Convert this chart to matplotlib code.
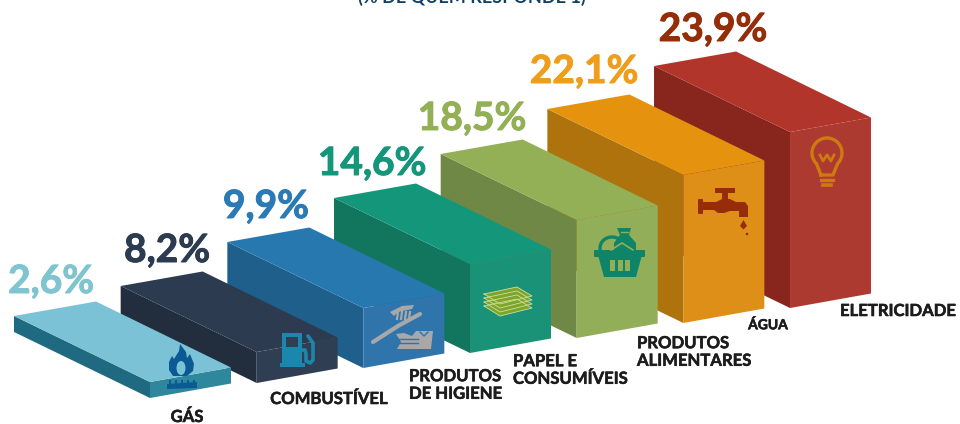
import matplotlib
matplotlib.use('Agg')
import matplotlib.pyplot as plt
import matplotlib.patheffects as pe
from matplotlib.patches import Polygon, Circle, Rectangle, Ellipse, FancyBboxPatch
import numpy as np

categories = ['GÁS', 'COMBUSTÍVEL', 'PRODUTOS\nDE HIGIENE', 'PAPEL E\nCONSUMÍVEIS',
              'PRODUTOS\nALIMENTARES', 'ÁGUA', 'ELETRICIDADE']
values = [2.6, 8.2, 9.9, 14.6, 18.5, 22.1, 23.9]
value_labels = ['2,6%', '8,2%', '9,9%', '14,6%', '18,5%', '22,1%', '23,9%']

# the infographic's bar heights are not linear in the value, so a piecewise scale
scale_values = [2.6, 8.2, 9.9, 14.6, 18.5, 22.1, 23.9]
scale_px = [16, 31, 60, 89, 118, 148, 176]

top_colors = ['#7CC2D6', '#2C3B50', '#2878B0', '#14967B', '#94B056', '#E5920F', '#B1352A']
side_colors = ['#1F6A80', '#222E3D', '#1F5F8C', '#12765F', '#708845', '#AE730D', '#88261E']
front_colors = ['#2E879C', '#2F3E53', '#3074AC', '#1A9278', '#93AE58', '#DE8F18', '#AD3A31']
text_colors = ['#7FC4CF', '#2C3B50', '#2A7AB5', '#14967B', '#93B055', '#F09E1A', '#952D08']

# placement of the labels, in pixels
pct_x = [51, 167, 266, 372, 472, 584, 713]
pct_y = [293, 262, 218, 175, 130, 83, 41]
cat_x = [187, 329, 409, 513, 637, 768, 898]
cat_y = [417, 399, 385, 370, 352, 325, 311]
cat_ha = ['center', 'center', 'left', 'left', 'left', 'center', 'center']
cat_size = [12, 12, 12, 12, 12, 10, 12]

FONT = ['Lato', 'DejaVu Sans']

fig = plt.figure(figsize=(9.6, 4.24), dpi=100)
ax = fig.add_axes([0, 0, 1, 1])
ax.set_xlim(0, 960)
ax.set_ylim(424, 0)
ax.axis('off')


def poly(points, color, z=5, **kw):
    ax.add_patch(Polygon(points, closed=True, facecolor=color, edgecolor='none', zorder=z, **kw))


def rect(x, y, w, h, color, z=6):
    ax.add_patch(Rectangle((x, y), w, h, facecolor=color, edgecolor='none', zorder=z))


# back bar first, the lower ones overlap it
for i in range(len(values) - 1, -1, -1):
    fx = 150 + 106.67 * i
    by = 398 - 15 * i
    h = np.interp(values[i], scale_values, scale_px)
    ty = by - h
    z = 2 + (len(values) - i) * 0.1
    poly([(fx - 136, ty - 66), (fx - 136, by - 66), (fx, by), (fx, ty)], side_colors[i], z)
    poly([(fx, ty), (fx, by), (fx + 81, by - 14.5), (fx + 81, ty - 14.5)], front_colors[i], z)
    poly([(fx - 136, ty - 66), (fx - 54, ty - 80.5), (fx + 81, ty - 14.5), (fx, ty)], top_colors[i], z)
    t1 = ax.text(pct_x[i], pct_y[i], value_labels[i], color=text_colors[i], family=FONT,
                 fontsize=28, fontweight='bold', ha='center', va='baseline')
    t1.set_path_effects([pe.withStroke(linewidth=0.7, foreground=text_colors[i])])
    t2 = ax.text(cat_x[i], cat_y[i], categories[i], color='#1C1C1C', family=FONT, fontsize=cat_size[i],
                 fontweight='bold', ha=cat_ha[i], va='center', linespacing=1.12)
    t2.set_path_effects([pe.withStroke(linewidth=0.4, foreground='#1C1C1C')])

ax.text(472, 3, '(% DE QUEM RESPONDE 1)', color='#0E3F66', family=FONT, fontsize=13,
        fontweight='bold', ha='center', va='baseline', clip_on=False)

# gas icon
c = '#0B5A94'
poly([(180, 344), (186, 352), (187, 358), (190, 354), (194, 364), (193, 371), (187, 376), (173, 376),
      (169, 370), (169, 362), (172, 356), (174, 359), (179, 351)], c, 6)
ax.add_patch(Ellipse((181, 368), 9, 14, facecolor='#7CC2D6', edgecolor='none', zorder=6))
poly([(167, 384), (197, 382), (197, 388), (167, 389)], c, 6)
for x in [169, 175, 181, 187, 193]:
    rect(x, 380, 2.4, 4, c)

# fuel pump icon
c = '#1A87AC'
rect(282, 333, 20, 31, c)
rect(280, 363, 25, 3.5, c)
rect(286, 337, 12, 10, '#2F3E53')
ax.plot([302, 305, 306, 306, 310, 313, 313, 308], [350, 350, 354, 361, 363, 360, 343, 336],
        color=c, lw=2.6, zorder=6, solid_capstyle='round')

# toothbrush and cleaning products icon
c = '#A8A8A8'
ax.plot([373, 398, 420], [342, 326, 314], color=c, lw=3, zorder=6, solid_capstyle='round')
poly([(390, 312), (402, 306), (414, 305), (412, 309), (398, 312), (394, 316)], c, 6)
for x in [398, 402, 406, 410]:
    ax.plot([x, x - 1], [312, 319], color=c, lw=1.6, zorder=6)
poly([(396, 334), (404, 333), (412, 336), (416, 331), (433, 331), (431, 349), (397, 349), (401, 342)], c, 6)
ax.plot([398, 418], [343, 343], color='#3074AC', lw=1, zorder=7)
ax.plot([398, 418], [339, 339], color='#3074AC', lw=1, zorder=7)
ax.plot([420, 424, 428], [332, 336, 332], color='#3074AC', lw=1, zorder=7)

# stack of paper icon
for dy in [12, 8, 4, 0]:
    poly([(484, 294 + dy), (517, 287 + dy), (532, 296 + dy), (500, 304 + dy)], '#7DA52B', 6)
    ax.plot([484, 517, 532, 500, 484],
            [294 + dy, 287 + dy, 296 + dy, 304 + dy, 294 + dy],
            color='#CFE09A', lw=0.6, zorder=6.5)

# basket icon
c = '#0E8468'
ax.add_patch(FancyBboxPatch((595, 251), 49, 5, boxstyle='round,pad=1', facecolor=c, edgecolor='none', zorder=6))
poly([(598, 255), (642, 255), (636, 277), (604, 277)], c, 6)
for x in [610, 617.5, 625]:
    rect(x, 260, 5, 11, '#93AE58', 7)
ax.add_patch(Ellipse((612, 248), 24, 22, facecolor='none', edgecolor=c, lw=2.4, zorder=6))
poly([(617, 228), (631, 228), (629, 235), (636, 243), (636, 252), (614, 252), (614, 243), (620, 235)], c, 6)
ax.plot([611, 622, 633], [250, 243, 250], color='#93AE58', lw=1.2, zorder=7)
ax.plot([621, 628], [232, 232], color='#93AE58', lw=1, zorder=7)

# tap icon
c = '#962D08'
rect(715, 188, 20, 5, c)
rect(722, 192, 6, 9, c)
ax.add_patch(FancyBboxPatch((699, 200), 3, 13, boxstyle='round,pad=1', facecolor=c, edgecolor='none', zorder=6))
poly([(702, 202), (716, 202), (722, 199), (730, 199), (736, 202), (745, 202), (748, 206), (748, 217), (739, 217),
      (739, 211), (730, 211), (724, 213), (718, 213), (714, 210), (702, 210)], c, 6)
poly([(743.5, 220), (747, 226), (743.5, 229.5), (740, 226)], c, 6)
ax.add_patch(Circle((747, 234), 1.3, facecolor=c, edgecolor='none', zorder=6))

# bulb icon
c = '#CE7A10'
t = np.linspace(np.radians(225), np.radians(-45), 60)
bx = 827 + 15 * np.cos(t)
by_ = 153 - 15 * np.sin(t)
ax.plot(np.r_[821, bx, 833, 821], np.r_[175, by_, 175, 175], color=c, lw=2.4, zorder=6)
ax.plot([821, 833], [180, 180], color=c, lw=2.4, zorder=6)
ax.plot([823, 831], [185, 185], color=c, lw=2.6, zorder=6)
ax.plot([820, 823, 827, 831, 834], [155, 161, 155, 161, 155], color=c, lw=2, zorder=6)

fig.savefig('out.png', dpi=100)
